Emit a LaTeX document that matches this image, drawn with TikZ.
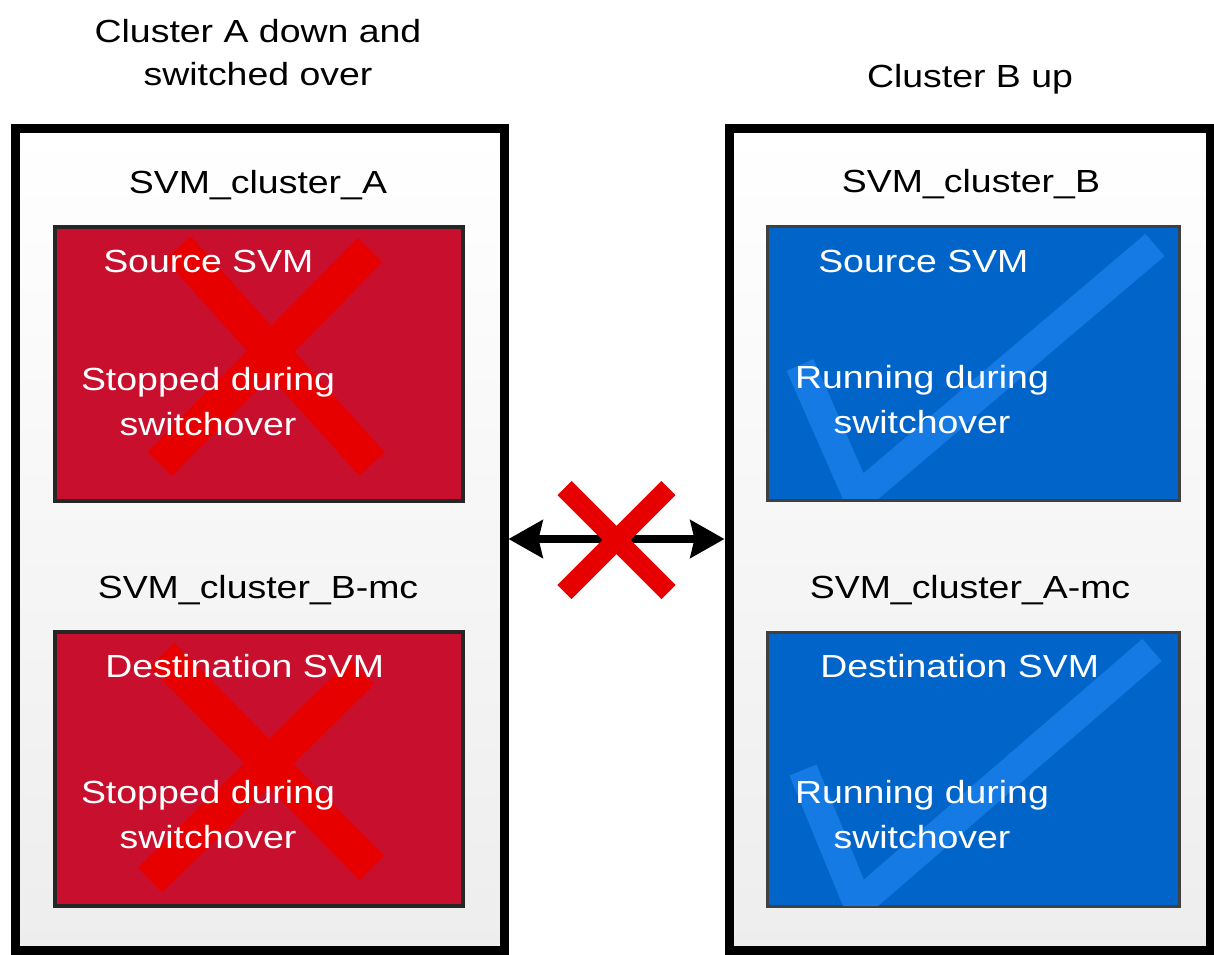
\documentclass[tikz,border=0pt]{standalone}
\usepackage{fontspec}
\setmainfont{Liberation Sans}[FakeStretch=1.17]
\usetikzlibrary{arrows.meta}

\definecolor{svmred}{RGB}{200,16,46}
\definecolor{xred}{RGB}{230,0,0}
\definecolor{svmblue}{RGB}{0,100,200}
\definecolor{tickblue}{RGB}{22,122,228}

\begin{document}
\begin{tikzpicture}[x=0.75pt,y=0.75pt,yscale=-1,xscale=1,
    clusterbox/.style={draw=black,line width=6.75pt,top color=white,bottom color=black!7,inner sep=0pt,minimum height=616.5pt},
    redbox/.style={fill=svmred,draw=black!85,line width=3pt,inner sep=0pt,minimum width=306pt,minimum height=205.5pt},
    bluebox/.style={fill=svmblue,draw=black!75,line width=2.25pt,inner sep=0pt,minimum width=309pt,minimum height=205.5pt},
    xmark/.style={draw=xred,line width=26pt},
    tickmark/.style={draw=tickblue,line width=22pt,line join=miter},
    lbl/.style={font=\fontsize{24}{33.75}\selectfont,inner sep=0pt,anchor=base},
    wlbl/.style={lbl,text=white}]
        \useasboundingbox (0,0) rectangle (1214,954);

        %Shape: Rectangle [clusters]
        \node [clusterbox,minimum width=366.75pt] (clusterA) at (259.5,539) {};
        \node [clusterbox,minimum width=360.75pt] (clusterB) at (969.5,539) {};
        %Shape: Rectangle [svms]
        \node [redbox] (srcA) at (259,363.5) {};
        \node [redbox] (dstA) at (259,769) {};
        \node [bluebox] (srcB) at (973,363.5) {};
        \node [bluebox] (dstB) at (973,769) {};

        %Shape: Cross
        \draw [xmark] (178,248) -- (372,464) (370,250) -- (160,464) ;
        \draw [xmark] (162,655) -- (372,868) (362,672) -- (150,880) ;
        %Shape: Tick
        \begin{scope}
        \clip (769,229) rectangle (1177,498);
        \draw [tickmark] (800,365) -- (858,497) -- (1155,245) ;
        \end{scope}
        \begin{scope}
        \clip (769,633) rectangle (1177,905);
        \draw [tickmark] (803,770) -- (858,904) -- (1152,650) ;
        \end{scope}

        %Straight Lines [link]
        \draw [line width=6pt,{Stealth[length=25.5pt,width=28pt,inset=3pt]}-{Stealth[length=25.5pt,width=28pt,inset=3pt]}] (clusterA.east) -- (clusterB.west) coordinate[midway] (cut) ;
        \draw [draw=xred,line width=15pt] (cut) ++(-52,-51) -- ++(104,104) (cut) ++(52,-51) -- ++(-104,104) ;

        % Text Node
        \node [lbl,align=center,font=\fontsize{24}{32.25}\selectfont] (headA) at (258,85) {Cluster A down and\\switched over};
        \node [lbl] (headB) at (970,87) {Cluster B up};
        \node [lbl] (nameA) at (258,193) {SVM\_cluster\_A};
        \node [lbl] (nameB) at (971,192) {SVM\_cluster\_B};
        \node [lbl] (nameBmc) at (258,598) {SVM\_cluster\_B-mc};
        \node [lbl] (nameAmc) at (970,598) {SVM\_cluster\_A-mc};
        % Text Node
        \node [wlbl,anchor=base west] (roleSrcA) at (103,272) {Source SVM};
        \node [wlbl,anchor=base west] (roleDstA) at (105,677) {Destination SVM};
        \node [wlbl,anchor=base west] (roleSrcB) at (818,272) {Source SVM};
        \node [wlbl,anchor=base west] (roleDstB) at (820,677) {Destination SVM};
        \node [wlbl,align=center] (stateSrcA) at (208,435) {Stopped during\\switchover};
        \node [wlbl,align=center] (stateDstA) at (208,848) {Stopped during\\switchover};
        \node [wlbl,align=center] (stateSrcB) at (922,433) {Running during\\switchover};
        \node [wlbl,align=center] (stateDstB) at (922,848) {Running during\\switchover};

    \end{tikzpicture}
\end{document}
